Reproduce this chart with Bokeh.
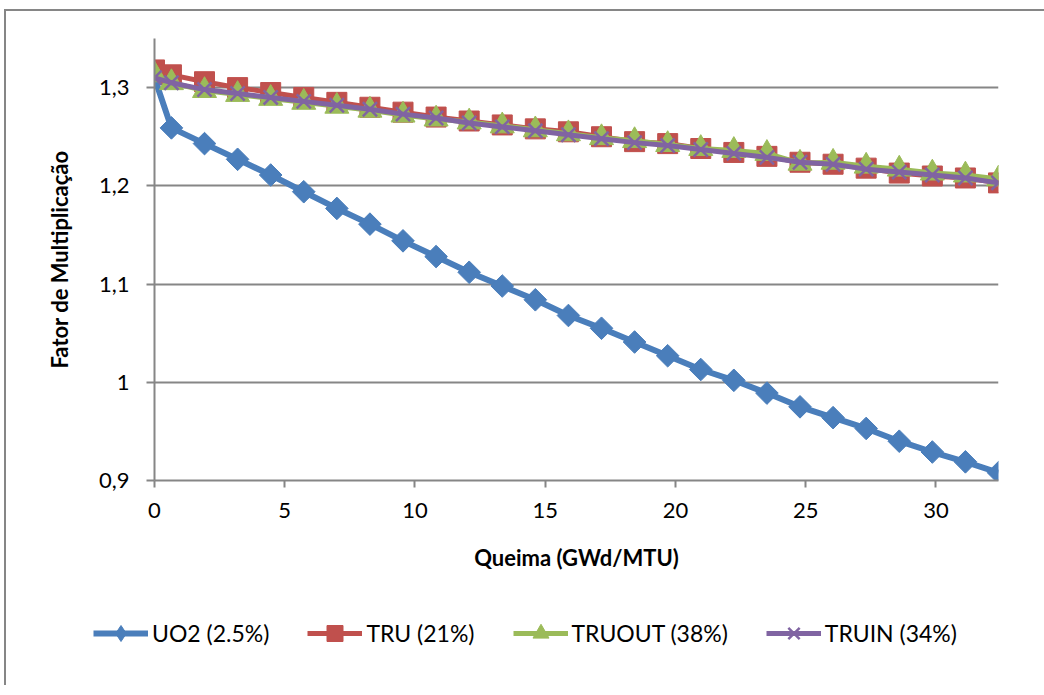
import numpy as np
from bokeh.plotting import figure
from bokeh.models import (FixedTicker, CustomJSTickFormatter, Legend, LegendItem, Range1d)
from bokeh.embed import file_html
from bokeh.resources import INLINE

# ---- data ----
burnup = [0.0, 0.65, 1.92, 3.19, 4.46, 5.73, 7.00, 8.27, 9.54, 10.81, 12.08, 13.35,
          14.62, 15.89, 17.16, 18.43, 19.70, 20.97, 22.24, 23.51, 24.78, 26.05,
          27.32, 28.59, 29.86, 31.13, 32.40]
uo2 = [1.310, 1.259, 1.243, 1.227, 1.211, 1.194, 1.177, 1.161, 1.144, 1.128, 1.112,
       1.098, 1.084, 1.068, 1.055, 1.041, 1.027, 1.013, 1.002, 0.989, 0.975, 0.964,
       0.953, 0.940, 0.929, 0.919, 0.908]
tru = [1.318, 1.313, 1.306, 1.300, 1.295, 1.290, 1.285, 1.280, 1.275, 1.270, 1.266,
       1.262, 1.258, 1.255, 1.250, 1.245, 1.243, 1.238, 1.234, 1.230, 1.224, 1.222,
       1.218, 1.213, 1.210, 1.208, 1.203]
truout = [1.313, 1.305, 1.297, 1.293, 1.289, 1.285, 1.281, 1.277, 1.272, 1.268, 1.265,
          1.261, 1.257, 1.253, 1.249, 1.246, 1.242, 1.238, 1.236, 1.233, 1.223, 1.224,
          1.220, 1.217, 1.213, 1.211, 1.207]
truin = [1.310, 1.305, 1.298, 1.294, 1.290, 1.286, 1.282, 1.278, 1.273, 1.269, 1.264,
         1.260, 1.256, 1.252, 1.248, 1.244, 1.241, 1.237, 1.233, 1.229, 1.224, 1.222,
         1.217, 1.214, 1.211, 1.208, 1.203]

series_names = ["UO2 (2.5%)", "TRU (21%)", "TRUOUT (38%)", "TRUIN (34%)"]
x_ticks = [0, 5, 10, 15, 20, 25, 30]
y_ticks = [0.9, 1.0, 1.1, 1.2, 1.3]
x_title = "Queima (GWd/MTU)"
y_title = "Fator de Multiplicação"

FONT = "Lato"
GRAY = "#868686"

p = figure(frame_width=844, frame_height=442,
           min_border_left=148, min_border_right=46, min_border_top=27, min_border_bottom=105,
           x_range=Range1d(0, 32.4), y_range=Range1d(0.9, 1.35),
           output_backend="svg", toolbar_location=None)
p.outline_line_color = None
p.background_fill_color = "white"
p.border_fill_color = "white"
p.styles = {"border-top": "2px solid #868686", "border-left": "2px solid #868686",
            "margin-left": "4px", "margin-top": "9px"}

for ax in (p.xaxis[0], p.yaxis[0]):
    ax.axis_line_color = GRAY
    ax.axis_line_width = 2
    ax.major_tick_line_color = GRAY
    ax.major_tick_line_width = 2
    ax.major_tick_in = 0
    ax.minor_tick_line_color = None
    ax.major_label_text_font = FONT
    ax.major_label_text_font_size = "22px"
    ax.major_label_text_color = "black"
    ax.axis_label_text_font = FONT
    ax.axis_label_text_font_size = "22px"
    ax.axis_label_text_font_style = "bold"
    ax.axis_label_text_color = "black"

p.xaxis.ticker = FixedTicker(ticks=x_ticks)
p.xaxis.major_tick_out = 7
p.xaxis.major_label_standoff = 15
p.xaxis.axis_label = x_title
p.xaxis.axis_label_standoff = 23

p.yaxis.ticker = FixedTicker(ticks=y_ticks)
p.yaxis.formatter = CustomJSTickFormatter(
    code="return (Math.round(tick*10)/10).toString().replace('.', ',');")
p.yaxis.major_tick_out = 8
p.yaxis.major_label_standoff = 17
p.yaxis.axis_label = y_title
p.yaxis.axis_label_standoff = 23

p.xgrid.visible = False
p.ygrid.ticker = FixedTicker(ticks=y_ticks)
p.ygrid.grid_line_color = GRAY
p.ygrid.grid_line_width = 2

specs = [
    (uo2, "#4A7EBB", dict(marker="square", size=16, angle=np.pi / 4), 6),
    (tru, "#C0504D", dict(marker="square", size=20), 5),
    (truout, "#9BBB59", dict(marker="triangle", size=24), 5),
    (truin, "#8064A2", dict(marker="x", size=20, line_width=2.5), 5),
]
for ys, col, mk, lw in specs:
    p.line(burnup, ys, line_color=col, line_width=lw)
    p.scatter(burnup, ys, fill_color=col, line_color=col, **mk)

# ---- legend strip: a separate root so its frame is not aligned to the chart ----
legend_markers = [dict(marker="diamond"), dict(marker="square"),
                  dict(marker="triangle"), dict(marker="x", line_width=2.5)]
lg = figure(width=1038, height=100, x_range=Range1d(0, 1), y_range=Range1d(0, 1),
            x_axis_location=None, y_axis_location=None, min_border=0,
            output_backend="svg", toolbar_location=None)
lg.outline_line_color = None
lg.xgrid.visible = False
lg.ygrid.visible = False
lg.styles = {"border-left": "2px solid #868686", "margin-left": "4px"}
items = []
for (ys, col, mk, lw), lmk, name in zip(specs, legend_markers, series_names):
    # sample renderers kept outside the visible range; they only feed the legend
    lr = lg.line([5, 6], [5, 5], line_color=col, line_width=lw)
    sr = lg.scatter([5], [5], fill_color=col, line_color=col, **lmk)
    items.append(LegendItem(label=name, renderers=[lr, sr]))
legend = Legend(items=items, orientation="horizontal", location=(87, 32),
                glyph_width=55, glyph_height=40, label_standoff=4, spacing=38,
                padding=0, margin=0, border_line_color=None, background_fill_alpha=0,
                label_text_font=FONT, label_text_font_size="23px",
                label_text_color="black")
lg.add_layout(legend)

open("out.html", "w").write(file_html((p, lg), INLINE))
